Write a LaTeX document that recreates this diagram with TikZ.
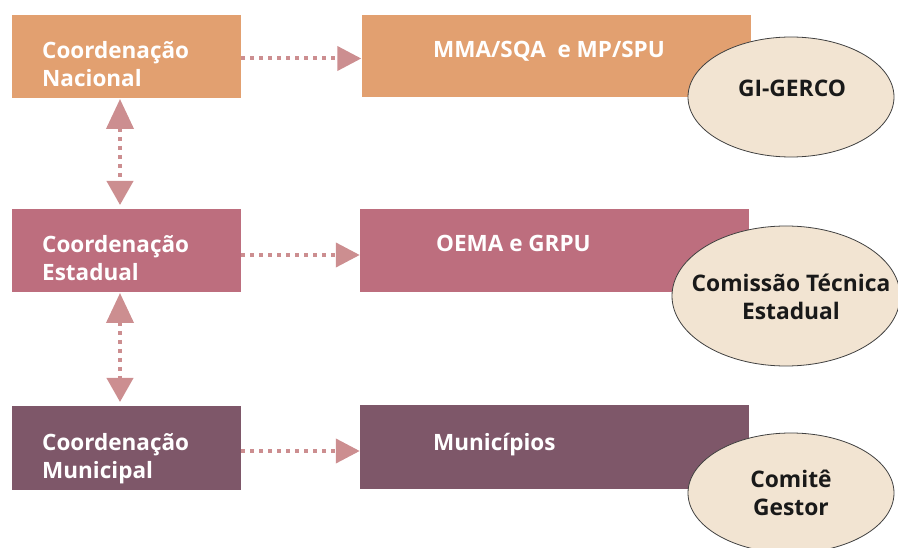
\documentclass[tikz,border=0pt]{standalone}
\usepackage{fontspec}
\setmainfont{Open Sans}
\usetikzlibrary{arrows.meta,shapes.geometric}
\definecolor{corange}{HTML}{E2A070}
\definecolor{crose}{HTML}{BD6E7E}
\definecolor{cplum}{HTML}{7E5769}
\definecolor{cell}{HTML}{F2E4D2}
\definecolor{carrow}{HTML}{CC8E90}
\tikzset{
  box/.style={draw=none, rectangle, inner sep=0pt},
  wtxt/.style={anchor=base west, inner sep=0pt, text=white, font=\fontsize{22.5}{26}\selectfont\bfseries},
  btxt/.style={anchor=base, inner sep=0pt, text=black!90, align=center, font=\fontsize{22.8}{26}\selectfont\bfseries},
  oval/.style={ellipse, draw=black!75, line width=0.8pt, fill=cell, inner sep=0pt},
  flow/.style={draw=carrow, line width=4pt, dash pattern=on 4pt off 5pt, -{Triangle[length=24pt,width=24pt]}},
  vflow/.style={draw=carrow, line width=4pt, dash pattern=on 4pt off 5pt, {Triangle[length=30pt,width=27pt]}-{Triangle[length=24pt,width=26pt]}}
}
\begin{document}
\begin{tikzpicture}[x=1pt,y=-1pt]
\useasboundingbox (0,0) rectangle (898,548);
% left boxes
\node[box, fill=corange, minimum width=229pt, minimum height=83pt] (L1) at (126.5,56.5) {};
\node[box, fill=crose, minimum width=229pt, minimum height=83pt] (L2) at (126.5,250.5) {};
\node[box, fill=cplum, minimum width=229pt, minimum height=84pt] (L3) at (126.5,448) {};
% right boxes
\node[box, fill=corange, minimum width=389pt, minimum height=82pt] (R1) at (556,56) {};
\node[box, fill=crose, minimum width=389pt, minimum height=83pt] (R2) at (554.5,250.5) {};
\node[box, fill=cplum, minimum width=389pt, minimum height=84pt] (R3) at (554.5,447) {};
% texts
\node[wtxt] (t1a) at (42,59) {Coordenação};
\node[wtxt] (t1b) at (42,87) {Nacional};
\node[wtxt] (t2a) at (42,253) {Coordenação};
\node[wtxt] (t2b) at (42,281) {Estadual};
\node[wtxt] (t3a) at (42,450) {Coordenação};
\node[wtxt] (t3b) at (42,478) {Municipal};
\node[wtxt] (r1t) at (433,58) {MMA/SQA\ \ e MP/SPU};
\node[wtxt] (r2t) at (436,252) {OEMA e GRPU};
\node[wtxt] (r3t) at (433,450) {Municípios};
% ellipses
\node[oval, minimum width=206pt, minimum height=120pt] (E1) at (791,97) {};
\node[oval, minimum width=228pt, minimum height=140pt] (E2) at (786,296) {};
\node[oval, minimum width=206pt, minimum height=120pt] (E3) at (791,493) {};
\node[btxt] (e1t) at (792,97) {GI-GERCO};
\node[btxt] (e2a) at (791,292) {Comissão Técnica};
\node[btxt] (e2b) at (791,320) {Estadual};
\node[btxt] (e3a) at (791,487) {Comitê};
\node[btxt] (e3b) at (791,515) {Gestor};
% connectors
\draw[flow] (L1.east |- 0,58.5) -- (R1.west |- 0,58.5);
\draw[flow] (L2.east |- 0,255) -- (R2.west |- 0,255);
\draw[flow] (L3.east |- 0,451) -- (R3.west |- 0,451);
\coordinate (v1a) at (120,99);
\coordinate (v1b) at (120,205);
\coordinate (v2a) at (120,293);
\coordinate (v2b) at (120,402);
\draw[vflow] (v1a) -- (v1b);
\draw[vflow] (v2a) -- (v2b);
\end{tikzpicture}
\end{document}
